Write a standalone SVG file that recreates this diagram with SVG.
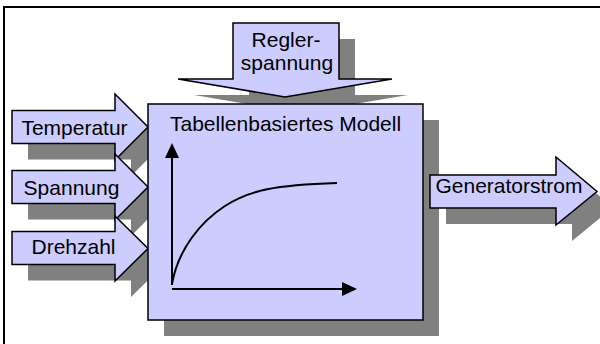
<svg xmlns="http://www.w3.org/2000/svg" width="600" height="344" viewBox="0 0 600 344">
  <style>
    .shape { fill: #CCCCFF; stroke: #000; stroke-width: 1.5; stroke-linejoin: miter; }
    .shadow { fill: #808080; stroke: none; }
    .label { font-family: "Liberation Sans", Arial, sans-serif; font-size: 21px; fill: #000; }
    .mid { text-anchor: middle; }
    .axis { stroke: #000; stroke-width: 2; fill: none; }
  </style>
  <defs>
    <path id="arrowTemp" d="M12,110.5 H115 V94 L148,127 L115,160 V143.5 H12 Z"/>
    <path id="arrowSpan" d="M12,170.5 H115 V154 L148,187 L115,220 V203.5 H12 Z"/>
    <path id="arrowDreh" d="M12,231.5 H115 V216 L148,248.5 L115,281 V264.5 H12 Z"/>
    <path id="arrowRegler" d="M233,23 H339 V79 H392 L285,97 L178,79 H233 Z"/>
    <path id="arrowGen" d="M430,175 H556 V157 L597,191.5 L556,225 V208 H430 Z"/>
  </defs>
  <rect width="600" height="344" fill="#fff"/>

  <!-- frame -->
  <rect x="4" y="7" width="700" height="400" fill="none" stroke="#000" stroke-width="2"/>

  <g id="connectors">
    <!-- control input from above -->
    <g id="regler">
      <use href="#arrowRegler" class="shadow" transform="translate(16,16)"/>
      <use href="#arrowRegler" class="shape"/>
      <text class="label mid" x="286" y="47">Regler-</text>
      <text class="label mid" x="287" y="70">spannung</text>
    </g>
    <g id="temperatur">
      <use href="#arrowTemp" class="shadow" transform="translate(16,16)"/>
      <use href="#arrowTemp" class="shape"/>
      <text class="label mid" x="74.5" y="135">Temperatur</text>
    </g>
    <g id="spannung">
      <use href="#arrowSpan" class="shadow" transform="translate(16,16)"/>
      <use href="#arrowSpan" class="shape"/>
      <text class="label mid" x="71.5" y="195">Spannung</text>
    </g>
    <g id="drehzahl">
      <use href="#arrowDreh" class="shadow" transform="translate(16,16)"/>
      <use href="#arrowDreh" class="shape"/>
      <text class="label mid" x="73.5" y="254">Drehzahl</text>
    </g>
  </g>

  <!-- table based model block -->
  <g id="modell">
    <rect class="shadow" x="164" y="120" width="275" height="216"/>
    <rect class="shape" x="148" y="104" width="275" height="216"/>
    <text class="label" x="170" y="131">Tabellenbasiertes Modell</text>
    <!-- characteristic curve -->
    <line class="axis" x1="172" y1="285" x2="172" y2="156"/>
    <polygon points="172,143 165,158 179,158" fill="#000"/>
    <line class="axis" x1="172" y1="289" x2="343" y2="289"/>
    <polygon points="357,289 342,282 342,296" fill="#000"/>
    <path class="axis" d="M172,284 C178,250 200,222 225,206 S275,185 337,183"/>
  </g>

  <g id="generatorstrom">
    <use href="#arrowGen" class="shadow" transform="translate(16,16)"/>
    <use href="#arrowGen" class="shape"/>
    <text class="label mid" x="509" y="193">Generatorstrom</text>
  </g>
</svg>
